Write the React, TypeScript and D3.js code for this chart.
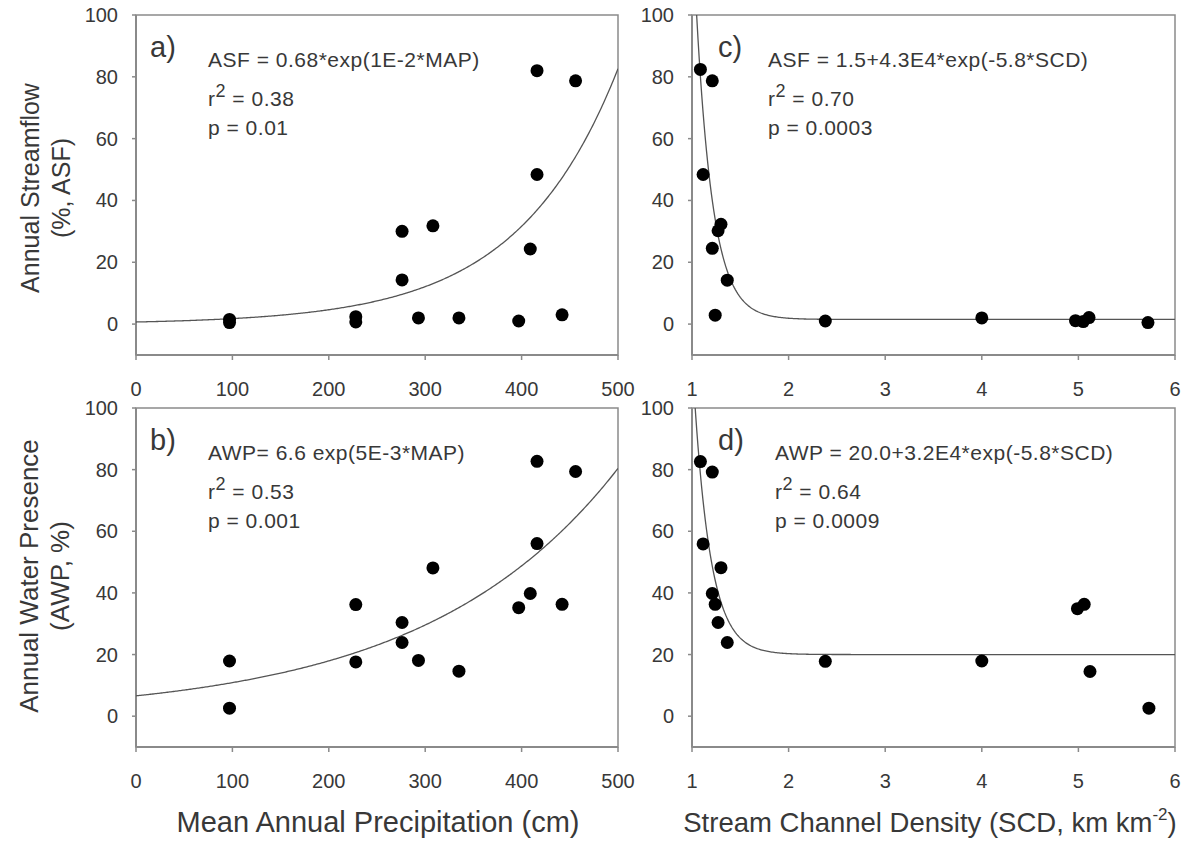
import React from "react";
import * as d3 from "d3";

// ---- Data ----
const MAP_A = [97, 97, 228, 228, 276, 276, 293, 308, 335, 397, 409, 416, 416, 442, 456];
const ASF_A = [1.5, 0.5, 2.4, 0.7, 30, 14.3, 2, 31.8, 2, 1, 24.3, 82, 48.4, 3, 78.7];

const MAP_B = [97, 97, 228, 228, 276, 276, 293, 308, 335, 397, 409, 416, 416, 442, 456];
const AWP_B = [17.9, 2.6, 36.2, 17.6, 30.4, 23.9, 18.1, 48.1, 14.6, 35.2, 39.8, 82.7, 56.0, 36.3, 79.4];

const SCD_C = [1.087, 1.21, 1.115, 1.3, 1.27, 1.21, 1.365, 1.24, 2.38, 4.0, 4.97, 5.05, 5.11, 5.72];
const ASF_C = [82.4, 78.7, 48.4, 32.3, 30.2, 24.5, 14.2, 2.9, 1.0, 2.0, 1.1, 0.8, 2.1, 0.5];

const SCD_D = [1.087, 1.21, 1.115, 1.3, 1.21, 1.24, 1.27, 1.365, 2.38, 4.0, 4.99, 5.06, 5.12, 5.73];
const AWP_D = [82.6, 79.2, 55.9, 48.2, 39.8, 36.3, 30.4, 23.9, 17.8, 17.9, 34.9, 36.3, 14.5, 2.6];

const MAP_TICKS = [0, 100, 200, 300, 400, 500];
const SCD_TICKS = [1, 2, 3, 4, 5, 6];
const Y_TICKS = [0, 20, 40, 60, 80, 100];

// fitted models (from the equations in the panels)
const FIT_A = { c: 0, a: 0.68, b: 0.0096 };
const FIT_B = { c: 0, a: 6.6, b: 0.005 };
const FIT_C = { c: 1.5, a: 4.3e4, b: -5.8 };
const FIT_D = { c: 20.0, a: 3.2e4, b: -5.8 };

const LABELS = ["a)", "b)", "c)", "d)"];
const EQS = [
  "ASF = 0.68*exp(1E-2*MAP)",
  "AWP= 6.6 exp(5E-3*MAP)",
  "ASF = 1.5+4.3E4*exp(-5.8*SCD)",
  "AWP = 20.0+3.2E4*exp(-5.8*SCD)",
];
const R2 = ["0.38", "0.53", "0.70", "0.64"];
const PV = ["0.01", "0.001", "0.0003", "0.0009"];

const FONT = "'Liberation Sans', Arial, sans-serif";
const AXIS = "#8a8a8a";
const TXT = "#383838";

type PanelProps = {
  id: string;
  left: number;
  right: number;
  top: number;
  bottom: number;
  xDomain: [number, number];
  xTicks: number[];
  xs: number[];
  ys: number[];
  fit: { c: number; a: number; b: number };
  label: string;
  eq: string;
  r2: string;
  p: string;
  labelX: number;
  eqX: number;
};

function Panel(props: PanelProps) {
  const { id, left, right, top, bottom, xDomain, xTicks, xs, ys, fit } = props;
  const x = d3.scaleLinear().domain(xDomain).range([left, right]);
  const y = d3.scaleLinear().domain([-10, 100]).range([bottom, top]);
  const n = 400;
  const fitPts: [number, number][] = d3.range(n + 1).map((i) => {
    const xv = xDomain[0] + ((xDomain[1] - xDomain[0]) * i) / n;
    return [xv, fit.c + fit.a * Math.exp(fit.b * xv)];
  });
  const line = d3
    .line<[number, number]>()
    .x((d) => x(d[0]))
    .y((d) => y(Math.min(d[1], 130)));
  const eqStyle = { letterSpacing: "0.5px" };
  return (
    <g>
      <defs>
        <clipPath id={"clip-" + id}>
          <rect x={left} y={top} width={right - left} height={bottom - top} />
        </clipPath>
      </defs>
      {/* frame */}
      <rect x={left} y={top} width={right - left} height={bottom - top} fill="none" stroke={AXIS} strokeWidth={1.5} />
      <line x1={left} x2={left} y1={top} y2={bottom} stroke={AXIS} strokeWidth={2} />
      <line x1={left} x2={right} y1={bottom} y2={bottom} stroke={AXIS} strokeWidth={2} />
      {/* y ticks */}
      {Y_TICKS.map((t) => (
        <g key={"y" + t}>
          <line x1={left - 4} x2={left} y1={y(t)} y2={y(t)} stroke={AXIS} strokeWidth={1.5} />
          <text x={left - 18} y={y(t) + 7} textAnchor="end" fontSize={20} fill={TXT} fontFamily={FONT}>
            {t}
          </text>
        </g>
      ))}
      {/* x ticks */}
      {xTicks.map((t) => (
        <g key={"x" + t}>
          <line x1={x(t)} x2={x(t)} y1={bottom} y2={bottom + 5} stroke={AXIS} strokeWidth={1.5} />
          <text x={x(t)} y={bottom + 41} textAnchor="middle" fontSize={20} fill={TXT} fontFamily={FONT}>
            {t}
          </text>
        </g>
      ))}
      {/* fit */}
      <path d={line(fitPts) || ""} fill="none" stroke="#555" strokeWidth={1.3} clipPath={`url(#clip-${id})`} />
      {/* points */}
      {xs.map((xv, i) => (
        <circle key={i} cx={x(xv)} cy={y(ys[i])} r={6.5} fill="#000" />
      ))}
      {/* annotations */}
      <text x={props.labelX} y={top + 42} fontSize={29} fill={TXT} fontFamily={FONT}>
        {props.label}
      </text>
      <text x={props.eqX} y={top + 52} fontSize={21} fill={TXT} fontFamily={FONT} style={eqStyle}>
        {props.eq}
      </text>
      <text x={props.eqX} y={top + 91} fontSize={21} fill={TXT} fontFamily={FONT} style={eqStyle}>
        r
        <tspan dy={-9} fontSize={18}>
          2
        </tspan>
        <tspan dy={9}>{" = " + props.r2}</tspan>
      </text>
      <text x={props.eqX} y={top + 120} fontSize={21} fill={TXT} fontFamily={FONT} style={eqStyle}>
        {"p = " + props.p}
      </text>
    </g>
  );
}

export default function App() {
  const colL = { left: 136, right: 618 };
  const colR = { left: 692, right: 1175 };
  const rowT = { top: 15, bottom: 355 };
  const rowB = { top: 408, bottom: 747 };
  return (
    <svg
      width={1189}
      height={841}
      style={{ position: "absolute", left: 0, top: 0, background: "#fff" }}
      fontFamily={FONT}
    >
      <rect x={0} y={0} width={1189} height={841} fill="#fff" />
      <Panel id="a" {...colL} {...rowT} xDomain={[0, 500]} xTicks={MAP_TICKS} xs={MAP_A} ys={ASF_A} fit={FIT_A}
        label={LABELS[0]} eq={EQS[0]} r2={R2[0]} p={PV[0]} labelX={150} eqX={208} />
      <Panel id="b" {...colL} {...rowB} xDomain={[0, 500]} xTicks={MAP_TICKS} xs={MAP_B} ys={AWP_B} fit={FIT_B}
        label={LABELS[1]} eq={EQS[1]} r2={R2[1]} p={PV[1]} labelX={150} eqX={208} />
      <Panel id="c" {...colR} {...rowT} xDomain={[1, 6]} xTicks={SCD_TICKS} xs={SCD_C} ys={ASF_C} fit={FIT_C}
        label={LABELS[2]} eq={EQS[2]} r2={R2[2]} p={PV[2]} labelX={718} eqX={768} />
      <Panel id="d" {...colR} {...rowB} xDomain={[1, 6]} xTicks={SCD_TICKS} xs={SCD_D} ys={AWP_D} fit={FIT_D}
        label={LABELS[3]} eq={EQS[3]} r2={R2[3]} p={PV[3]} labelX={718} eqX={775} />

      {/* y-axis titles */}
      <g transform="translate(30,188) rotate(-90)">
        <text textAnchor="middle" dominantBaseline="central" fontSize={25} fill={TXT}>Annual Streamflow</text>
      </g>
      <g transform="translate(61,188) rotate(-90)">
        <text textAnchor="middle" dominantBaseline="central" fontSize={25} fill={TXT}>(%, ASF)</text>
      </g>
      <g transform="translate(29,576) rotate(-90)">
        <text textAnchor="middle" dominantBaseline="central" fontSize={26} fill={TXT}>Annual Water Presence</text>
      </g>
      <g transform="translate(60,576) rotate(-90)">
        <text textAnchor="middle" dominantBaseline="central" fontSize={26} fill={TXT}>(AWP, %)</text>
      </g>

      {/* x-axis titles */}
      <text x={378} y={832} textAnchor="middle" fontSize={29} fill={TXT}>Mean Annual Precipitation (cm)</text>
      <text x={930} y={832} textAnchor="middle" fontSize={27.5} fill={TXT}>
        Stream Channel Density (SCD, km km
        <tspan dy={-12} fontSize={17}>-2</tspan>
        <tspan dy={12}>)</tspan>
      </text>
    </svg>
  );
}
